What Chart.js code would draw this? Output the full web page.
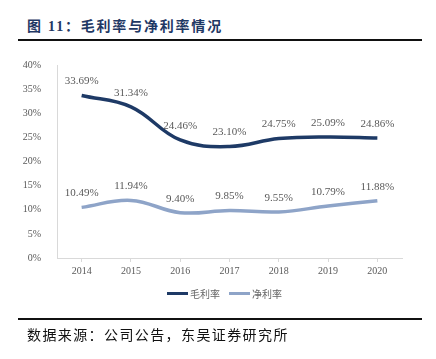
<!DOCTYPE html>
<html>
<head>
<meta charset="utf-8">
<script src="https://cdn.jsdelivr.net/npm/chart.js@4.4.0/dist/chart.umd.min.js"></script>
<style>
  body { margin: 0; background: #fff; width: 436px; height: 359px; position: relative; overflow: hidden; }
  .title { position: absolute; left: 27px; top: 15px; font: bold 14px "Liberation Serif", "Noto Sans CJK SC"; color: #1f3864; letter-spacing: 1.8px; white-space: nowrap; }
  .rule { position: absolute; left: 18px; width: 404px; height: 2px; background: #111; }
  .foot { position: absolute; left: 27px; top: 324px; font: 14px "Noto Sans CJK SC"; color: #111; letter-spacing: 1.4px; white-space: nowrap; }
  #wrap { position: absolute; left: 0; top: 50px; width: 436px; height: 260px; }
  .legend { position: absolute; top: 286px; left: 167px; font: 10px "Noto Sans CJK SC"; color: #666; display: flex; align-items: center; }
  .legend span.sw { display: inline-block; width: 21px; height: 3px; margin-right: 2px; }
</style>
</head>
<body>
<div class="title">图 11：毛利率与净利率情况</div>
<div class="rule" style="top:39px"></div>
<div id="wrap"><canvas id="myChart"></canvas></div>
<div class="legend" id="legend"></div>
<div class="rule" style="top:318px"></div>
<div class="foot">数据来源：公司公告，东吴证券研究所</div>
<script>
const years = ['2014', '2015', '2016', '2017', '2018', '2019', '2020'];
const grossMargin = [33.69, 31.34, 24.46, 23.10, 24.75, 25.09, 24.86];
const netMargin = [10.49, 11.94, 9.40, 9.85, 9.55, 10.79, 11.88];
const seriesNames = ['毛利率', '净利率'];
const seriesColors = ['#1e3a66', '#8ea4c8'];

const valueLabels = {
    id: 'valueLabels',
    afterDatasetsDraw(chart) {
        const ctx = chart.ctx;
        ctx.save();
        ctx.font = '11px "Liberation Serif"';
        ctx.fillStyle = '#595959';
        ctx.textAlign = 'center';
        ctx.textBaseline = 'middle';
        chart.data.datasets.forEach(function(ds, i) {
            chart.getDatasetMeta(i).data.forEach(function(pt, j) {
                ctx.fillText(ds.data[j].toFixed(2) + '%', pt.x, pt.y - 14);
            });
        });
        ctx.restore();
    }
};

const newChart = document.getElementById('myChart').getContext('2d');
const myChart = new Chart(newChart, {
    type: 'line',
    data: {
        labels: years,
        datasets: [{
            label: seriesNames[0],
            data: grossMargin,
            borderColor: seriesColors[0],
            borderWidth: 3.5,
            tension: 0.4,
            pointRadius: 0
        }, {
            label: seriesNames[1],
            data: netMargin,
            borderColor: seriesColors[1],
            borderWidth: 3.5,
            tension: 0.4,
            pointRadius: 0
        }]
    },
    options: {
        responsive: true,
        maintainAspectRatio: false,
        animation: false,
        layout: { padding: { top: 15, right: 34, left: 0, bottom: 0 } },
        plugins: {
            legend: { display: false },
            tooltip: { enabled: false }
        },
        scales: {
            x: {
                offset: true,
                grid: { offset: false, drawOnChartArea: false, tickLength: 4, color: '#d9d9d9' },
                border: { color: '#d9d9d9' },
                ticks: { color: '#595959', font: { family: 'Liberation Serif', size: 10 }, padding: 3, maxRotation: 0 },
                afterFit: function(scale) { scale.height = 52; }
            },
            y: {
                min: 0,
                max: 40,
                grid: { display: false },
                border: { color: '#d9d9d9' },
                ticks: {
                    stepSize: 5,
                    padding: 8,
                    color: '#595959',
                    font: { family: 'Liberation Serif', size: 10 },
                    callback: function(value) { return value + '%'; }
                },
                afterFit: function(scale) { scale.width = 57; }
            }
        }
    },
    plugins: [valueLabels]
});

const legendEl = document.getElementById('legend');
seriesNames.forEach(function(name, i) {
    const item = document.createElement('span');
    item.style.display = 'flex';
    item.style.alignItems = 'center';
    item.style.marginRight = i === 0 ? '9px' : '0';
    item.innerHTML = '<span class="sw" style="background:' + seriesColors[i] + '"></span>' + name;
    legendEl.appendChild(item);
});
</script>
</body>
</html>
